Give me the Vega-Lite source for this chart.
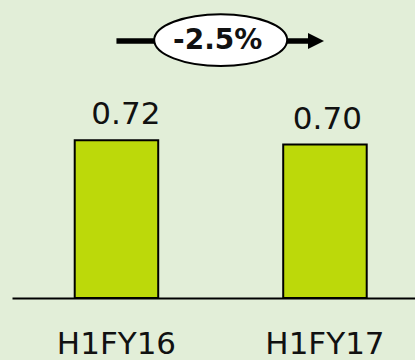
{
  "$schema": "https://vega.github.io/schema/vega-lite/v6.json",
  "width": 403,
  "height": 298,
  "autosize": {"type": "none"},
  "padding": {"left": 12, "top": 0, "right": 0, "bottom": 62},
  "background": "#e2eed8",
  "config": {"view": {"stroke": null}},
  "datasets": {
    "bars": [
      {"period": "H1FY16", "value": 0.72, "label": "0.72"},
      {"period": "H1FY17", "value": 0.70, "label": "0.70"}
    ],
    "arrow": [
      {"pos": 0, "level": 1.173},
      {"pos": 0.93, "level": 1.173}
    ],
    "head": [{"pos": 0.957, "level": 1.173}],
    "badge": [{"pos": 0.5, "level": 1.177, "text": "-2.5%"}]
  },
  "resolve": {"scale": {"x": "independent"}},
  "layer": [
    {
      "data": {"name": "bars"},
      "mark": {"type": "bar", "fill": "#bcd90a", "stroke": "#000000", "strokeWidth": 2},
      "encoding": {
        "x": {
          "field": "period", "type": "nominal", "sort": null,
          "scale": {"paddingInner": 0.5995, "paddingOuter": 0.2662, "align": 0.565},
          "axis": {
            "title": null, "ticks": false, "grid": false,
            "domainColor": "#000000", "domainWidth": 2,
            "labelAngle": 0, "labelFont": "DejaVu Sans", "labelFontSize": 31,
            "labelColor": "#111111", "labelPadding": 31, "labelBaseline": "top"
          }
        },
        "y": {
          "field": "value", "type": "quantitative",
          "scale": {"domain": [0, 1.36], "nice": false, "zero": true},
          "axis": null
        }
      }
    },
    {
      "data": {"name": "bars"},
      "mark": {"type": "text", "font": "DejaVu Sans", "fontSize": 31, "baseline": "alphabetic", "dy": -16, "color": "#111111"},
      "encoding": {
        "x": {"field": "period", "type": "nominal", "sort": null,
          "scale": {"paddingInner": 0.5995, "paddingOuter": 0.2662, "align": 0.565},
          "axis": null},
        "y": {"field": "value", "type": "quantitative", "scale": {"domain": [0, 1.36], "nice": false}, "axis": null},
        "text": {"field": "label"}
      }
    },
    {
      "data": {"name": "arrow"},
      "mark": {"type": "line", "color": "#000000", "strokeWidth": 5.5, "strokeCap": "butt"},
      "encoding": {
        "x": {"field": "pos", "type": "quantitative", "scale": {"domain": [-0.501, 1.432], "nice": false, "zero": false}, "axis": null},
        "y": {"field": "level", "type": "quantitative", "scale": {"domain": [0, 1.36], "nice": false}, "axis": null}
      }
    },
    {
      "data": {"name": "head"},
      "mark": {"type": "point", "shape": "M-1,-1L1,0L-1,1Z", "size": 256, "filled": true, "color": "#000000", "opacity": 1},
      "encoding": {
        "x": {"field": "pos", "type": "quantitative", "scale": {"domain": [-0.501, 1.432], "nice": false, "zero": false}, "axis": null},
        "y": {"field": "level", "type": "quantitative", "scale": {"domain": [0, 1.36], "nice": false}, "axis": null}
      }
    },
    {
      "data": {"name": "badge"},
      "mark": {"type": "point", "shape": "M-1,0A1,0.39,0,1,0,1,0A1,0.39,0,1,0,-1,0Z", "size": 17689, "filled": true, "fill": "#ffffff", "stroke": "#000000", "strokeWidth": 2, "opacity": 1},
      "encoding": {
        "x": {"field": "pos", "type": "quantitative", "scale": {"domain": [-0.501, 1.432], "nice": false, "zero": false}, "axis": null},
        "y": {"field": "level", "type": "quantitative", "scale": {"domain": [0, 1.36], "nice": false}, "axis": null}
      }
    },
    {
      "data": {"name": "badge"},
      "mark": {"type": "text", "font": "DejaVu Sans", "fontWeight": "bold", "fontSize": 28, "baseline": "middle", "dx": -3, "dy": 1, "color": "#111111"},
      "encoding": {
        "x": {"field": "pos", "type": "quantitative", "scale": {"domain": [-0.501, 1.432], "nice": false, "zero": false}, "axis": null},
        "y": {"field": "level", "type": "quantitative", "scale": {"domain": [0, 1.36], "nice": false}, "axis": null},
        "text": {"field": "text"}
      }
    }
  ]
}
